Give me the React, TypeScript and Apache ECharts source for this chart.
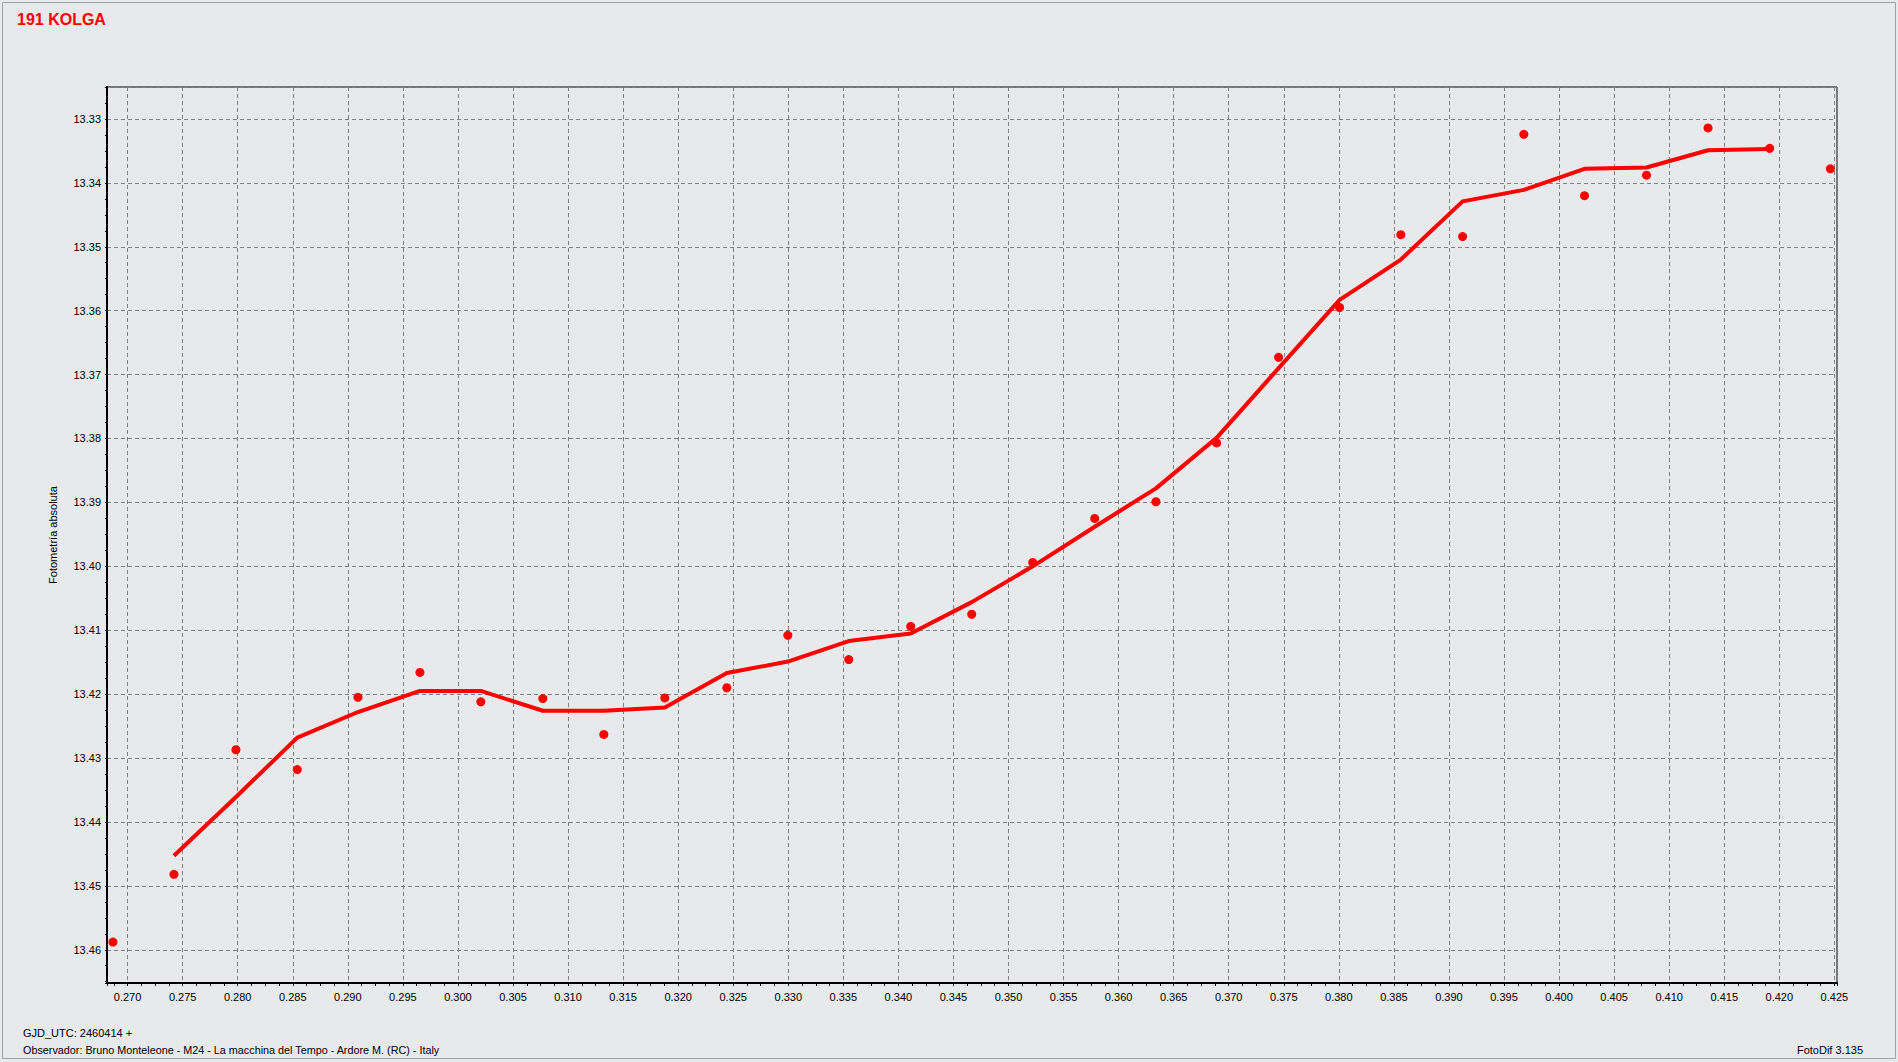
import React, { useEffect, useRef } from "react";
import * as echarts from "echarts";

const titleText = "191 KOLGA";
const yAxisName = "Fotometría absoluta";
const footerLine1 = "GJD_UTC: 2460414 +";
const footerLine2 = "Observador: Bruno Monteleone - M24 - La macchina del Tempo - Ardore M. (RC) - Italy";
const footerRight = "FotoDif 3.135";

// observation times (fraction of day after GJD 2460414)
const timeValues = [
  0.26867, 0.27421, 0.27984, 0.28541, 0.29092, 0.29655, 0.30208, 0.30771, 0.31325, 0.31879,
  0.32442, 0.32996, 0.33549, 0.34112, 0.34666, 0.3522, 0.35783, 0.36339, 0.3689, 0.37453,
  0.38007, 0.38563, 0.39124, 0.3968, 0.40231, 0.40794, 0.41353, 0.41913, 0.42464,
];
// absolute magnitudes of each observation
const magnitudeValues = [
  13.4588, 13.4482, 13.4287, 13.4318, 13.4205, 13.4166, 13.4212, 13.4207, 13.4263, 13.4206,
  13.419, 13.4108, 13.4146, 13.4094, 13.4075, 13.3994, 13.3925, 13.3899, 13.3807, 13.3673,
  13.3595, 13.3481, 13.3484, 13.3324, 13.342, 13.3388, 13.3314, 13.3346, 13.3378,
];
// smoothed curve, one value per observation from the 2nd to the 28th
const smoothedValues = [
  13.4453, 13.4361, 13.4268, 13.4228, 13.4195, 13.4195, 13.4226, 13.4226, 13.4221, 13.4167,
  13.4149, 13.4117, 13.4105, 13.4056, 13.4, 13.3938, 13.3878, 13.3799, 13.369, 13.3583,
  13.352, 13.3429, 13.3411, 13.3378, 13.3376, 13.3349, 13.3347,
];

const FONT = 'Arial, "Liberation Sans", sans-serif';
const RED = "#ff0000";
const BG = "#e8e9eb";

export default function App() {
  const ref = useRef<HTMLDivElement>(null);

  useEffect(() => {
    if (!ref.current) return;
    const chart = echarts.init(ref.current, undefined, { renderer: "svg" });

    const pointData = timeValues.map((t, i) => [t, magnitudeValues[i]]);
    const lineData = smoothedValues.map((m, i) => [timeValues[i + 1], m]);

    chart.setOption({
      animation: false,
      backgroundColor: BG,
      grid: {
        left: 107,
        top: 87,
        width: 1730,
        height: 896,
        show: true,
        backgroundColor: BG,
        borderColor: "#000",
        borderWidth: 1,
      },
      xAxis: {
        type: "value",
        min: 0.26813,
        max: 0.42524,
        splitNumber: 31,
        axisLine: { onZero: false, lineStyle: { color: "#000", width: 2 } },
        axisTick: { show: true, length: 3, lineStyle: { color: "#000" } },
        minorTick: { show: true, splitNumber: 4, length: 3, lineStyle: { color: "#000" } },
        axisLabel: {
          color: "#000",
          fontSize: 11,
          fontFamily: FONT,
          margin: 8,
          showMinLabel: false,
          showMaxLabel: false,
          formatter: (v: number) => v.toFixed(3),
        },
        splitLine: {
          show: true,
          lineStyle: { color: "#808080", type: [4, 3], width: 1 },
        },
      },
      yAxis: {
        type: "value",
        inverse: true,
        min: 13.325,
        max: 13.4652,
        splitNumber: 14,
        name: yAxisName,
        nameLocation: "middle",
        nameGap: 49,
        nameRotate: 90,
        nameTextStyle: { color: "#000", fontSize: 11, fontFamily: FONT },
        axisLine: { lineStyle: { color: "#000", width: 2 } },
        axisTick: { show: true, length: 2, lineStyle: { color: "#000" } },
        minorTick: { show: true, splitNumber: 4, length: 2, lineStyle: { color: "#000" } },
        axisLabel: {
          color: "#000",
          fontSize: 11,
          fontFamily: FONT,
          margin: 6,
          showMinLabel: false,
          showMaxLabel: false,
          formatter: (v: number) => v.toFixed(2),
        },
        splitLine: {
          show: true,
          lineStyle: { color: "#808080", type: [4, 3], width: 1 },
        },
      },
      series: [
        {
          type: "line",
          data: lineData,
          showSymbol: false,
          symbol: "none",
          lineStyle: { color: RED, width: 4 },
          itemStyle: { color: RED },
          z: 2,
        },
        {
          type: "scatter",
          data: pointData,
          symbol: "circle",
          symbolSize: 9,
          itemStyle: { color: RED, opacity: 1 },
          z: 3,
        },
      ],
      graphic: [
        {
          type: "rect",
          shape: { x: 2.5, y: 2.5, width: 1893, height: 1056 },
          style: { fill: "none", stroke: "#a0a0a0", lineWidth: 1 },
          silent: true,
        },
        {
          type: "text",
          left: 17,
          top: 11,
          style: {
            text: titleText,
            fill: RED,
            font: `bold 16px ${FONT}`,
          },
        },
        {
          type: "text",
          left: 23,
          top: 1027,
          style: { text: footerLine1, fill: "#000", font: `11px ${FONT}` },
        },
        {
          type: "text",
          left: 23,
          top: 1044,
          style: { text: footerLine2, fill: "#000", font: `10.8px ${FONT}` },
        },
        {
          type: "text",
          right: 35,
          top: 1044,
          style: { text: footerRight, fill: "#000", font: `11px ${FONT}` },
        },
      ],
    });

    return () => chart.dispose();
  }, []);

  return (
    <div
      ref={ref}
      style={{ position: "fixed", left: 0, top: 0, width: 1898, height: 1062, background: "#f0f0f0" }}
    />
  );
}
